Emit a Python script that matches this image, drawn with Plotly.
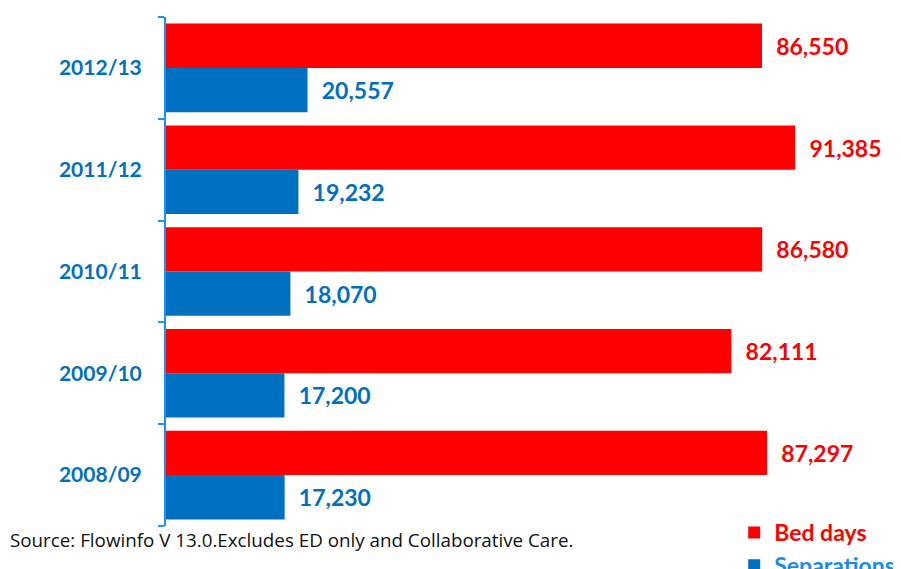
import plotly.graph_objects as go

years = ["2008/09", "2009/10", "2010/11", "2011/12", "2012/13"]
bed_days = [87297, 82111, 86580, 91385, 86550]
separations = [17230, 17200, 18070, 19232, 20557]
source_text = "Source: Flowinfo V 13.0.Excludes ED only and Collaborative Care."

RED = "#FF0000"
BLUE = "#0070C0"
AXIS = "#1E8FFF"

fig = go.Figure()
fig.add_trace(go.Bar(
    y=years, x=separations, orientation="h",
    name="<span style='color:#1A8BE6'>Separations</span>",
    marker=dict(color=BLUE, line=dict(width=0)),
    text=[f"{v:,}" for v in separations],
    texttemplate="  %{text}",
    textposition="outside", constraintext="none", cliponaxis=False,
    textfont=dict(family="Lato", size=23, color=BLUE, weight="bold"),
))
fig.add_trace(go.Bar(
    y=years, x=bed_days, orientation="h",
    name="<span style='color:#FF0000'>Bed days</span>",
    marker=dict(color=RED, line=dict(width=0)),
    text=[f"{v:,}" for v in bed_days],
    texttemplate="  %{text}",
    textposition="outside", constraintext="none", cliponaxis=False,
    textfont=dict(family="Lato", size=23, color=RED, weight="bold"),
))

fig.update_layout(
    width=901, height=569,
    margin=dict(l=158, r=5, t=9, b=51, autoexpand=False),
    paper_bgcolor="white", plot_bgcolor="white",
    barmode="group", bargap=0.13, bargroupgap=0,
    showlegend=True,
    legend=dict(
        xref="container", yref="container",
        x=0.806, xanchor="left", y=0.116, yanchor="top",
        traceorder="reversed",
        font=dict(family="Lato", size=23, weight="bold"),
        bgcolor="rgba(0,0,0,0)", tracegroupgap=0,
        itemclick=False,
    ),
    xaxis=dict(range=[0, 107175], visible=False, showgrid=False, zeroline=False),
    yaxis=dict(
        type="category", categoryorder="array", categoryarray=years,
        showline=True, linecolor=AXIS, linewidth=2,
        ticks="outside", tickson="boundaries", ticklen=6, tickcolor=AXIS, tickwidth=2,
        ticklabelstandoff=18,
        tickfont=dict(family="Lato", size=21, color=BLUE, weight="bold"),
        showgrid=False, zeroline=False,
    ),
    annotations=[dict(
        text=source_text, xref="paper", yref="paper",
        x=-0.214, y=-0.0275, xanchor="left", yanchor="middle",
        showarrow=False,
        font=dict(family="Open Sans", size=18.8, color="#111111"),
    )],
)

fig.write_html("out.html")
